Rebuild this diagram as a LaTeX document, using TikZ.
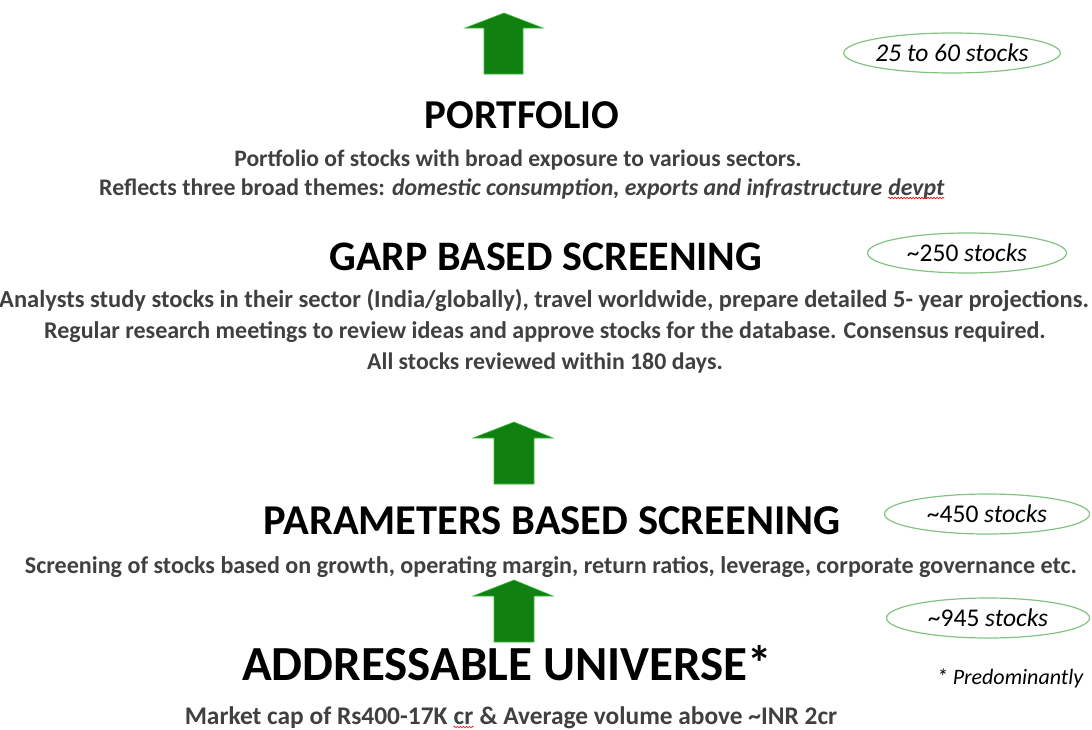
\documentclass[tikz,border=0pt]{standalone}
\usepackage{fontspec}
\setmainfont{Carlito}
\usetikzlibrary{shapes.geometric,decorations.pathmorphing}
\definecolor{arrowgreen}{RGB}{16,128,16}
\definecolor{arrowedge}{RGB}{60,190,60}
\definecolor{ellgreen}{RGB}{130,195,130}
\definecolor{bodygray}{RGB}{64,64,64}
\tikzset{
  heading/.style={anchor=base, font=\fontsize{#1}{#1}\selectfont\bfseries, text=black, inner sep=0pt},
  heading/.default=42,
  body/.style={anchor=base, font=\fontsize{#1}{#1}\selectfont\bfseries, text=bodygray, inner sep=0pt},
  body/.default=24,
  count/.style={ellipse, draw=ellgreen, line width=1.2pt, fill=white, minimum width=#1, minimum height=40pt, inner sep=0pt, font=\fontsize{25.5}{25.5}\selectfont, text=black},
  bigarrow/.style={fill=arrowgreen, draw=arrowedge, line width=0.6pt},
  squiggle/.style={draw=red, line width=0.6pt, decorate, decoration={snake, amplitude=0.8pt, segment length=3pt}}
}
\newcommand{\spellerr}[1]{\tikz[baseline=(w.base),x=1pt,y=1pt]{\node[inner sep=0pt,anchor=base](w){#1};\draw[squiggle] ([yshift=-3pt]w.base west) -- ([yshift=-3pt]w.base east);}}
\begin{document}
\begin{tikzpicture}[x=1pt,y=-1pt]
\useasboundingbox (0,0) rectangle (1092,729);
% arrows
\draw[bigarrow] (504,13) -- (543,28) -- (523,28) -- (523,74) -- (484,74) -- (484,28) -- (465,28) -- cycle;
\draw[bigarrow] (514,422) -- (553,438) -- (534,438) -- (534,484) -- (494,484) -- (494,438) -- (473,438) -- cycle;
\draw[bigarrow] (514,580) -- (553,596) -- (534,596) -- (534,642) -- (494,642) -- (494,596) -- (473,596) -- cycle;
% portfolio
\node[heading=41] (pf) at (522,128) {PORTFOLIO};
\node[body=23.6] (pf1) at (518,166) {Portfolio of stocks with broad exposure to various sectors.};
\node[body=23.8] (pf2) at (522,195) {Reflects three broad themes: \textit{domestic consumption, exports and infrastructure \spellerr{devpt}}};
\node[count=215pt] (c1) at (952,53) {\textit{25 to 60 stocks}};
% garp
\node[heading=42] (garp) at (546,270) {GARP BASED SCREENING};
\node[body=24.5] (g1) at (544,307) {Analysts study stocks in their sector (India/globally), travel worldwide, prepare detailed 5- year projections.};
\node[body=24] (g2) at (545,338) {Regular research meetings to review ideas and approve stocks for the database. Consensus required.};
\node[body=23.8] (g3) at (545,369) {All stocks reviewed within 180 days.};
\node[count=199pt] (c2) at (967,253) {\textasciitilde 250 \textit{stocks}};
% parameters
\node[heading=42.5] (par) at (552,534) {PARAMETERS BASED SCREENING};
\node[body=24.1] (p1) at (551,573) {Screening of stocks based on growth, operating margin, return ratios, leverage, corporate governance etc.};
\node[count=205pt] (c3) at (987,514) {\textasciitilde 450 \textit{stocks}};
% addressable
\node[heading=49] (au) at (507,680) {ADDRESSABLE UNIVERSE*};
\node[body=25.4] (a1) at (511,724) {Market cap of Rs400-17K \spellerr{cr} \& Average volume above \textasciitilde INR 2cr};
\node[count=203pt] (c4) at (988,618) {\textasciitilde 945 \textit{stocks}};
\node[anchor=base, inner sep=0pt, font=\fontsize{22}{22}\selectfont\itshape] (pred) at (1010,684) {* Predominantly};
\end{tikzpicture}
\end{document}
